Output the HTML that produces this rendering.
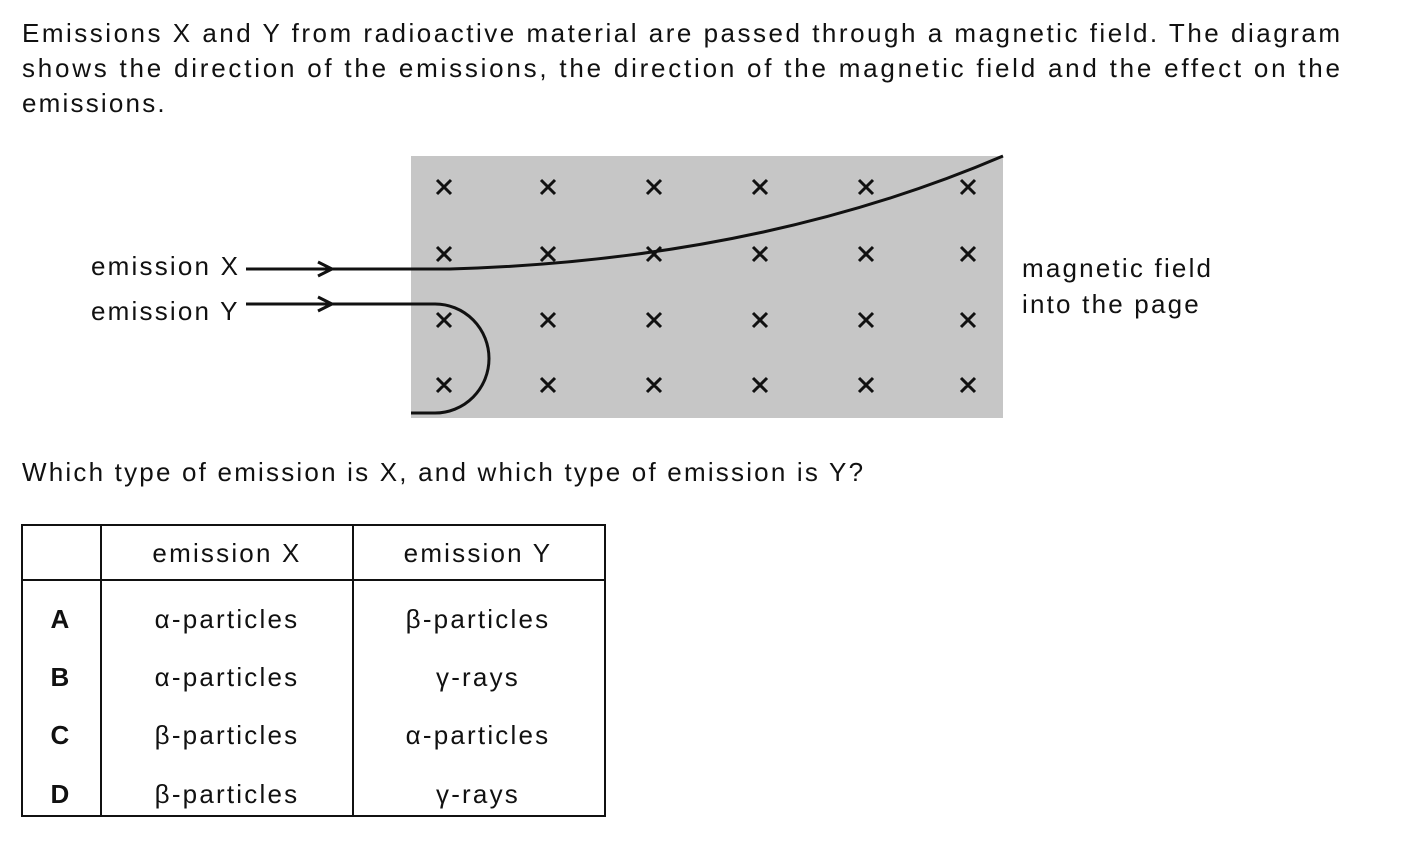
<!DOCTYPE html>
<html><head><meta charset="utf-8"><style>
html,body{margin:0;padding:0;background:#fff;}
svg{display:block;}
text{font-family:"Liberation Sans",Arial,sans-serif;fill:#111;}
.ls{letter-spacing:2.2px;}
</style></head><body>
<svg width="1416" height="845" viewBox="0 0 1416 845" xmlns="http://www.w3.org/2000/svg">
<g font-size="26">
<text x="22" y="42" textLength="1318" lengthAdjust="spacing">Emissions X and Y from radioactive material are passed through a magnetic field. The diagram</text>
<text x="22" y="77" textLength="1318" lengthAdjust="spacing">shows the direction of the emissions, the direction of the magnetic field and the effect on the</text>
<text x="22" y="112" class="ls">emissions.</text>
<text x="22" y="481" class="ls">Which type of emission is X, and which type of emission is Y?</text>
<text x="91" y="275" class="ls">emission X</text>
<text x="91" y="320" class="ls">emission Y</text>
<text x="1022" y="277" class="ls">magnetic field</text>
<text x="1022" y="313" class="ls">into the page</text>
</g>
<rect x="411" y="156" width="592" height="262" fill="#c6c6c6"/>
<g stroke="#111" stroke-width="3" fill="none">
<path d="M437 180l14 14M451 180l-14 14M541 180l14 14M555 180l-14 14M647 180l14 14M661 180l-14 14M753 180l14 14M767 180l-14 14M859 180l14 14M873 180l-14 14M961 180l14 14M975 180l-14 14"/>
<path d="M437 247l14 14M451 247l-14 14M541 247l14 14M555 247l-14 14M647 247l14 14M661 247l-14 14M753 247l14 14M767 247l-14 14M859 247l14 14M873 247l-14 14M961 247l14 14M975 247l-14 14"/>
<path d="M437 313l14 14M451 313l-14 14M541 313l14 14M555 313l-14 14M647 313l14 14M661 313l-14 14M753 313l14 14M767 313l-14 14M859 313l14 14M873 313l-14 14M961 313l14 14M975 313l-14 14"/>
<path d="M437 378l14 14M451 378l-14 14M541 378l14 14M555 378l-14 14M647 378l14 14M661 378l-14 14M753 378l14 14M767 378l-14 14M859 378l14 14M873 378l-14 14M961 378l14 14M975 378l-14 14"/>
<path d="M246 269H450Q760 260 1003 156"/>
<path d="M246 304H435A54 54.5 0 0 1 435 413H411"/>
<path d="M318 262l14 7l-14 7M318 297l14 7l-14 7"/>
</g>
<g stroke="#111" stroke-width="2" fill="none">
<rect x="22" y="525" width="583" height="291"/>
<path d="M101 525V816M353 525V816M22 580H605"/>
</g>
<g font-size="26" text-anchor="middle" class="ls">
<text x="227" y="562">emission X</text>
<text x="478" y="562">emission Y</text>
<g font-weight="bold"><text x="61" y="628">A</text><text x="61" y="686">B</text><text x="61" y="744">C</text><text x="61" y="803">D</text></g>
<text x="227" y="628">α-particles</text><text x="478" y="628">β-particles</text>
<text x="227" y="686">α-particles</text><text x="478" y="686">γ-rays</text>
<text x="227" y="744">β-particles</text><text x="478" y="744">α-particles</text>
<text x="227" y="803">β-particles</text><text x="478" y="803">γ-rays</text>
</g>
</svg>
</body></html>
